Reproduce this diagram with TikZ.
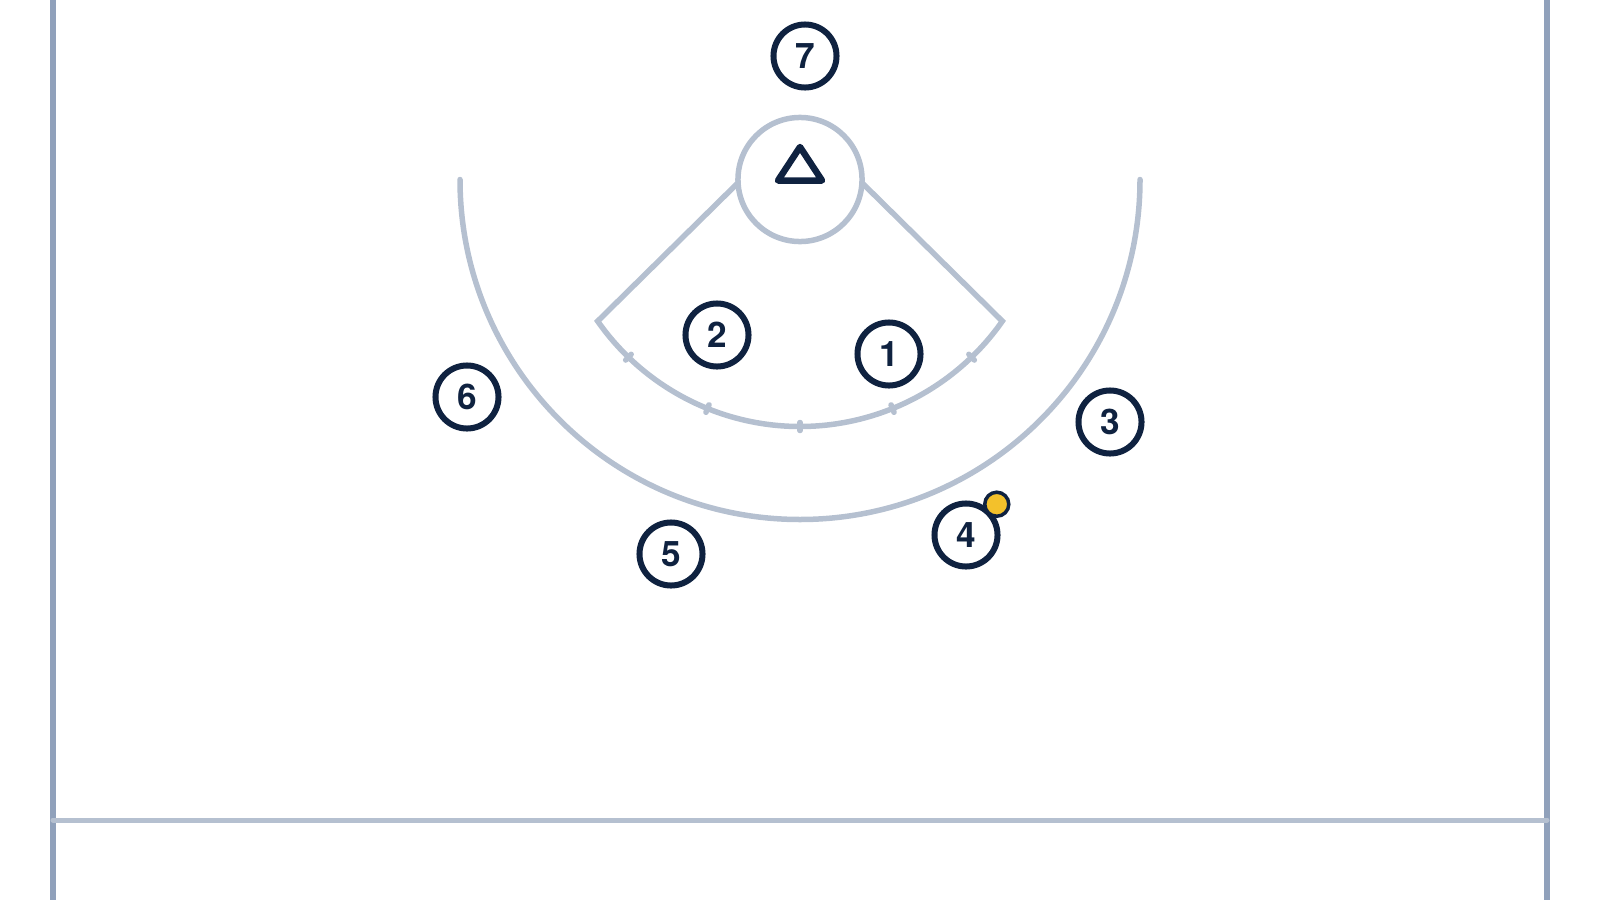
\documentclass[tikz,border=0pt]{standalone}
\usepackage{fontspec}
\setmainfont{TeX Gyre Heros}
\usepackage{tikz}
\usetikzlibrary{positioning, calc}
\definecolor{navy}{HTML}{0F2240}
\definecolor{courtgrey}{HTML}{B5C0D0}
\definecolor{sidegrey}{HTML}{90A1BB}
\definecolor{ballyellow}{HTML}{F3C12B}

\begin{document}
\begin{tikzpicture}[x=0.01cm, y=0.01cm]
    \tikzstyle{player} = [circle, draw=navy, line width=0.06cm, minimum size=0.63cm,
        inner sep=0pt, outer sep=0pt, text=navy, font=\bfseries\fontsize{10}{10}\selectfont]
    \tikzstyle{ball} = [circle, draw=navy, fill=ballyellow, line width=0.035cm,
        minimum size=0.24cm, inner sep=0pt, outer sep=0pt]
    \tikzstyle{court} = [courtgrey, line width=0.055cm, line cap=round]
    \useasboundingbox (0,0) rectangle (1600,-900);
    \coordinate (centre) at (800,-179.5);
    \node [circle, draw=courtgrey, line width=0.055cm, minimum size=1.24cm,
        inner sep=0pt, outer sep=0pt] at (centre) (goal) {};
    \draw [navy, line width=0.065cm, line join=round] ($(goal.center)+(-22,-1)$)
        -- ($(goal.center)+(0,32.5)$) -- ($(goal.center)+(22,-1)$) -- cycle;
    \draw [court] (goal.183) -- ($(centre)+(-145:247)$)
        arc [start angle=-145, end angle=-35, radius=247] -- (goal.-3);
    \foreach \a in {-134,-112,-90,-68,-46}
        \draw [court] ($(centre)+(\a:243)$) -- ($(centre)+(\a:251)$);
    \draw [court] ($(centre)+(180:340)$) arc [start angle=180, end angle=360, radius=340];
    % sidelines and back line
    \draw [sidegrey, line width=0.06cm] (53,0) -- (53,-900);
    \draw [sidegrey, line width=0.06cm] (1547,0) -- (1547,-900);
    \draw [court, line width=0.05cm] (53,-820) -- (1547,-820);
    % players
    \node [player] at (805,-56) (p7) {7};
    \node [player] at (717,-335) (p2) {2};
    \node [player] at (889,-354) (p1) {1};
    \node [player] at (467,-397) (p6) {6};
    \node [player] at (1110,-422) (p3) {3};
    \node [player] at (671,-554) (p5) {5};
    \node [player] at (966,-535) (p4) {4};
    \node [ball, above right=0pt of p4] (ball) {};
\end{tikzpicture}
\end{document}
